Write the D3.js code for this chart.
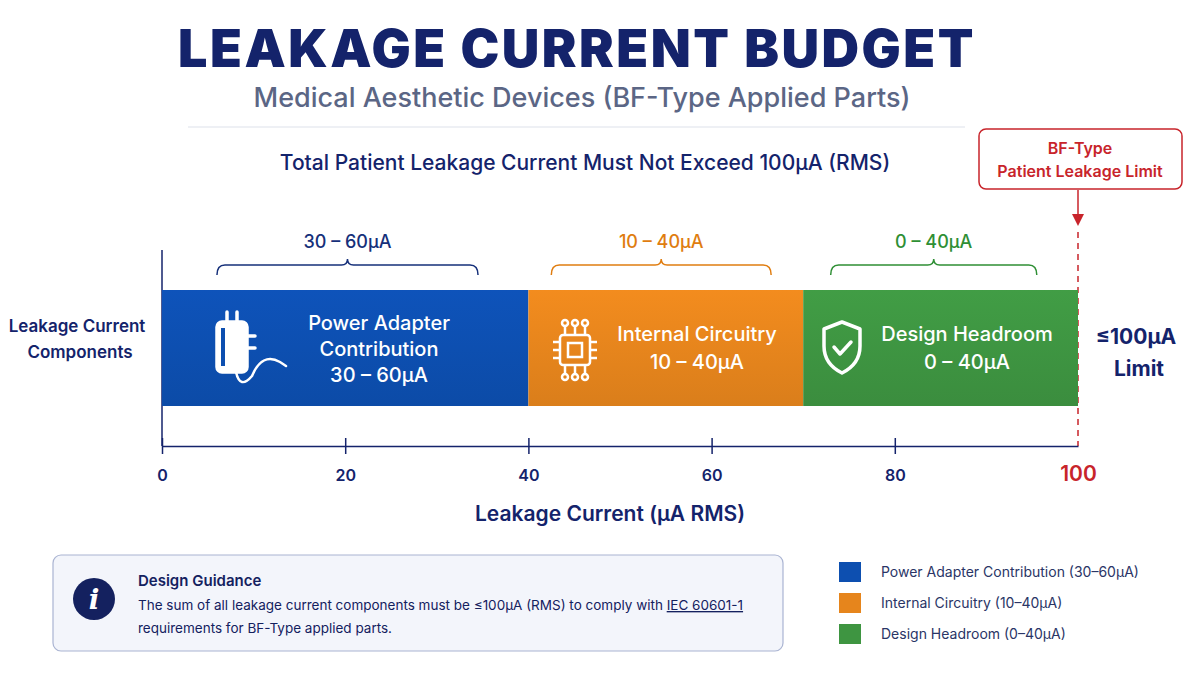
<!DOCTYPE html>
<html><head><meta charset="utf-8">
<script src="https://cdn.jsdelivr.net/npm/d3@7"></script>
<style>
body{margin:0;background:#fff;font-family:Inter,"Noto Sans",sans-serif}
</style></head><body><div id="chart"></div>
<script>
const W = 1200, H = 683
const segNames = ["Power Adapter", "Internal Circuitry", "Design Headroom"]
const segStart = [0, 40, 70]
const segEnd = [40, 70, 100]
const segRange = ["30 – 60µA", "10 – 40µA", "0 – 40µA"]
const braceFrom = [6, 42.5, 73]
const braceTo = [34.5, 66.5, 95.5]
const segColors = ["#0d4fb0", "#e6851c", "#3e9541"]
const labelColors = ["#16307a", "#e07d10", "#2f8f35"]
const ticks = [0, 20, 40, 60, 80, 100]
const legendLabels = ["Power Adapter Contribution (30–60µA)", "Internal Circuitry (10–40µA)", "Design Headroom (0–40µA)"]

const x = d3.scaleLinear().domain([0, 100]).range([162, 1078])
const navy = "#14236b"

const svg = d3.select("#chart").append("svg").attr("width", W).attr("height", H)

const defs = svg.append("defs")
segColors.forEach((c, i) => {
  const g = defs.append("linearGradient").attr("id", "g" + i).attr("x1", 0).attr("y1", 0).attr("x2", 0).attr("y2", 1)
  g.append("stop").attr("offset", 0).attr("stop-color", d3.color(c).brighter(0.15))
  g.append("stop").attr("offset", 1).attr("stop-color", d3.color(c).darker(0.15))
})

svg.append("text").attr("x", 577).attr("y", 67).attr("text-anchor", "middle")
  .attr("font-size", 52).attr("font-weight", 900).attr("fill", navy).attr("letter-spacing", 2.5)
  .text("LEAKAGE CURRENT BUDGET")
svg.append("text").attr("x", 582).attr("y", 107).attr("text-anchor", "middle")
  .attr("font-size", 27).attr("font-weight", 500).attr("fill", "#5b6685")
  .text("Medical Aesthetic Devices (BF-Type Applied Parts)")
svg.append("line").attr("x1", 188).attr("x2", 965).attr("y1", 127).attr("y2", 127).attr("stroke", "#dde1ea")
svg.append("text").attr("x", 585).attr("y", 170).attr("text-anchor", "middle")
  .attr("font-size", 21).attr("font-weight", 500).attr("fill", navy)
  .text("Total Patient Leakage Current Must Not Exceed 100µA (RMS)")

// limit callout
svg.append("rect").attr("x", 979).attr("y", 129).attr("width", 203).attr("height", 60).attr("rx", 7)
  .attr("fill", "#fff").attr("stroke", "#c8242b").attr("stroke-width", 1.5)
svg.append("text").attr("x", 1080).attr("y", 154).attr("text-anchor", "middle").attr("font-size", 16)
  .attr("font-weight", 600).attr("fill", "#c8242b").text("BF-Type")
svg.append("text").attr("x", 1080).attr("y", 177).attr("text-anchor", "middle").attr("font-size", 16)
  .attr("font-weight", 600).attr("fill", "#c8242b").text("Patient Leakage Limit")
svg.append("line").attr("x1", x(100)).attr("x2", x(100)).attr("y1", 190).attr("y2", 218).attr("stroke", "#c8242b").attr("stroke-width", 1.5)
svg.append("path").attr("d", `M${x(100) - 6},214 L${x(100) + 6},214 L${x(100)},226 Z`).attr("fill", "#c8242b")
svg.append("line").attr("x1", x(100)).attr("x2", x(100)).attr("y1", 232).attr("y2", 446)
  .attr("stroke", "#c8242b").attr("stroke-width", 1.5).attr("stroke-dasharray", "6,5")

// left axis
svg.append("line").attr("x1", x(0)).attr("x2", x(0)).attr("y1", 250).attr("y2", 446).attr("stroke", navy).attr("stroke-width", 1.5)
svg.append("text").attr("x", 77).attr("y", 332).attr("text-anchor", "middle").attr("font-size", 17).attr("font-weight", 600).attr("fill", navy).text("Leakage Current")
svg.append("text").attr("x", 80).attr("y", 358).attr("text-anchor", "middle").attr("font-size", 17).attr("font-weight", 600).attr("fill", navy).text("Components")

// braces
segRange.forEach((r, i) => {
  const a = x(braceFrom[i]), b = x(braceTo[i]), m = (a + b) / 2, y0 = 275, y1 = 265
  svg.append("path").attr("fill", "none").attr("stroke", labelColors[i]).attr("stroke-width", 1.5)
    .attr("d", `M${a},${y0} Q${a},${y1} ${a + 8},${y1} L${m - 6},${y1} Q${m},${y1} ${m},${y1 - 6} Q${m},${y1} ${m + 6},${y1} L${b - 8},${y1} Q${b},${y1} ${b},${y0}`)
  svg.append("text").attr("x", m).attr("y", 248).attr("text-anchor", "middle").attr("font-size", 18)
    .attr("font-weight", 500).attr("fill", labelColors[i]).text(r)
})

// bars
svg.selectAll(".seg").data(segNames).join("rect")
  .attr("x", (d, i) => x(segStart[i])).attr("width", (d, i) => x(segEnd[i]) - x(segStart[i]))
  .attr("y", 290).attr("height", 116).attr("fill", (d, i) => `url(#g${i})`)

const white = "#fff"
function txt(lines, cx, y0, dy) {
  lines.forEach((t, j) => svg.append("text").attr("x", cx).attr("y", y0 + j * dy).attr("text-anchor", "middle")
    .attr("font-size", 20).attr("font-weight", 500).attr("fill", white).text(t))
}
txt(["Power Adapter", "Contribution", segRange[0]], 379, 330, 26)
txt([segNames[1], segRange[1]], 697, 341, 28)
txt([segNames[2], segRange[2]], 967, 341, 28)

// adapter icon
const ic = svg.append("g").attr("fill", "none").attr("stroke", white).attr("stroke-width", 3.5).attr("stroke-linecap", "round")
ic.append("rect").attr("x", 217).attr("y", 322).attr("width", 30).attr("height", 50).attr("rx", 5).attr("fill", white)
ic.append("line").attr("x1", 227).attr("x2", 227).attr("y1", 312).attr("y2", 322)
ic.append("line").attr("x1", 237).attr("x2", 237).attr("y1", 312).attr("y2", 322)
ic.append("line").attr("x1", 247).attr("x2", 255).attr("y1", 336).attr("y2", 336)
ic.append("line").attr("x1", 247).attr("x2", 255).attr("y1", 348).attr("y2", 348)
ic.append("path").attr("stroke-width", 2.5).attr("d", "M236,372 Q240,390 252,376 Q262,352 280,362 L286,366")
ic.append("rect").attr("x", 221).attr("y", 328).attr("width", 4).attr("height", 38).attr("fill", "#0d4fb0").attr("stroke", "none")

// chip icon
const ch = svg.append("g").attr("fill", "none").attr("stroke", white).attr("stroke-width", 2.5)
ch.append("rect").attr("x", 560).attr("y", 335).attr("width", 30).attr("height", 30).attr("rx", 3)
ch.append("rect").attr("x", 568).attr("y", 343).attr("width", 14).attr("height", 14)
;[565, 575, 585].forEach(p => {
  ch.append("line").attr("x1", p).attr("x2", p).attr("y1", 335).attr("y2", 326)
  ch.append("circle").attr("cx", p).attr("cy", 323).attr("r", 3)
  ch.append("line").attr("x1", p).attr("x2", p).attr("y1", 365).attr("y2", 374)
  ch.append("circle").attr("cx", p).attr("cy", 377).attr("r", 3)
})
;[342, 350, 358].forEach(p => {
  ch.append("line").attr("x1", 560).attr("x2", 553).attr("y1", p).attr("y2", p)
  ch.append("line").attr("x1", 590).attr("x2", 597).attr("y1", p).attr("y2", p)
})

// shield icon
const sh = svg.append("g").attr("fill", "none").attr("stroke", white).attr("stroke-width", 3.5).attr("stroke-linejoin", "round").attr("stroke-linecap", "round")
sh.append("path").attr("d", "M842,322 L860,329 L860,346 Q860,364 842,373 Q824,364 824,346 L824,329 Z")
sh.append("path").attr("d", "M834,347 L840,354 L851,342")

// bottom axis
svg.append("g").attr("transform", "translate(0,446)")
  .call(d3.axisBottom(x).tickValues(ticks).tickSize(0).tickFormat(d3.format("d")))
  .call(g => g.select(".domain").attr("stroke", navy).attr("stroke-width", 1.5))
  .call(g => g.selectAll(".tick text").attr("dy", 0).attr("y", 35).attr("font-size", 16).attr("font-weight", 600)
    .attr("font-family", "Inter").attr("fill", d => d === 100 ? "#c8242b" : navy).attr("font-size", d => d === 100 ? 21 : 16))
  .call(g => g.selectAll(".tick").filter(d => d < 100).append("line").attr("y1", -8).attr("y2", 8).attr("stroke", navy).attr("stroke-width", 1.5))
svg.append("text").attr("x", 610).attr("y", 521).attr("text-anchor", "middle").attr("font-size", 21).attr("font-weight", 600).attr("fill", navy).text("Leakage Current (µA RMS)")

svg.append("text").attr("x", 1136).attr("y", 344).attr("text-anchor", "middle").attr("font-size", 21).attr("font-weight", 700).attr("fill", navy).text("≤100µA")
svg.append("text").attr("x", 1139).attr("y", 376).attr("text-anchor", "middle").attr("font-size", 21).attr("font-weight", 700).attr("fill", navy).text("Limit")

// guidance box
svg.append("rect").attr("x", 53).attr("y", 555).attr("width", 730).attr("height", 96).attr("rx", 8)
  .attr("fill", "#f3f5fb").attr("stroke", "#aab4d2").attr("stroke-width", 1.2)
svg.append("circle").attr("cx", 94).attr("cy", 599).attr("r", 21).attr("fill", "#14215f")
svg.append("text").attr("x", 94).attr("y", 609).attr("text-anchor", "middle").attr("font-size", 28).attr("font-weight", 700)
  .attr("font-style", "italic").attr("font-family", "DejaVu Serif").attr("fill", "#fff").text("i")
svg.append("text").attr("x", 138).attr("y", 586).attr("font-size", 15).attr("font-weight", 600).attr("fill", "#14215f").text("Design Guidance")
const t1 = svg.append("text").attr("x", 138).attr("y", 610).attr("font-size", 13.5).attr("fill", "#14215f")
t1.append("tspan").text("The sum of all leakage current components must be ≤100µA (RMS) to comply with ")
t1.append("tspan").attr("text-decoration", "underline").text("IEC 60601-1")
svg.append("text").attr("x", 138).attr("y", 633).attr("font-size", 13.5).attr("fill", "#14215f").text("requirements for BF-Type applied parts.")

// legend
legendLabels.forEach((l, i) => {
  svg.append("rect").attr("x", 839).attr("y", 562 + i * 31).attr("width", 22).attr("height", 20).attr("fill", segColors[i])
  svg.append("text").attr("x", 881).attr("y", 577 + i * 31).attr("font-size", 14).attr("fill", "#2a3566").text(l)
})
</script></body></html>
